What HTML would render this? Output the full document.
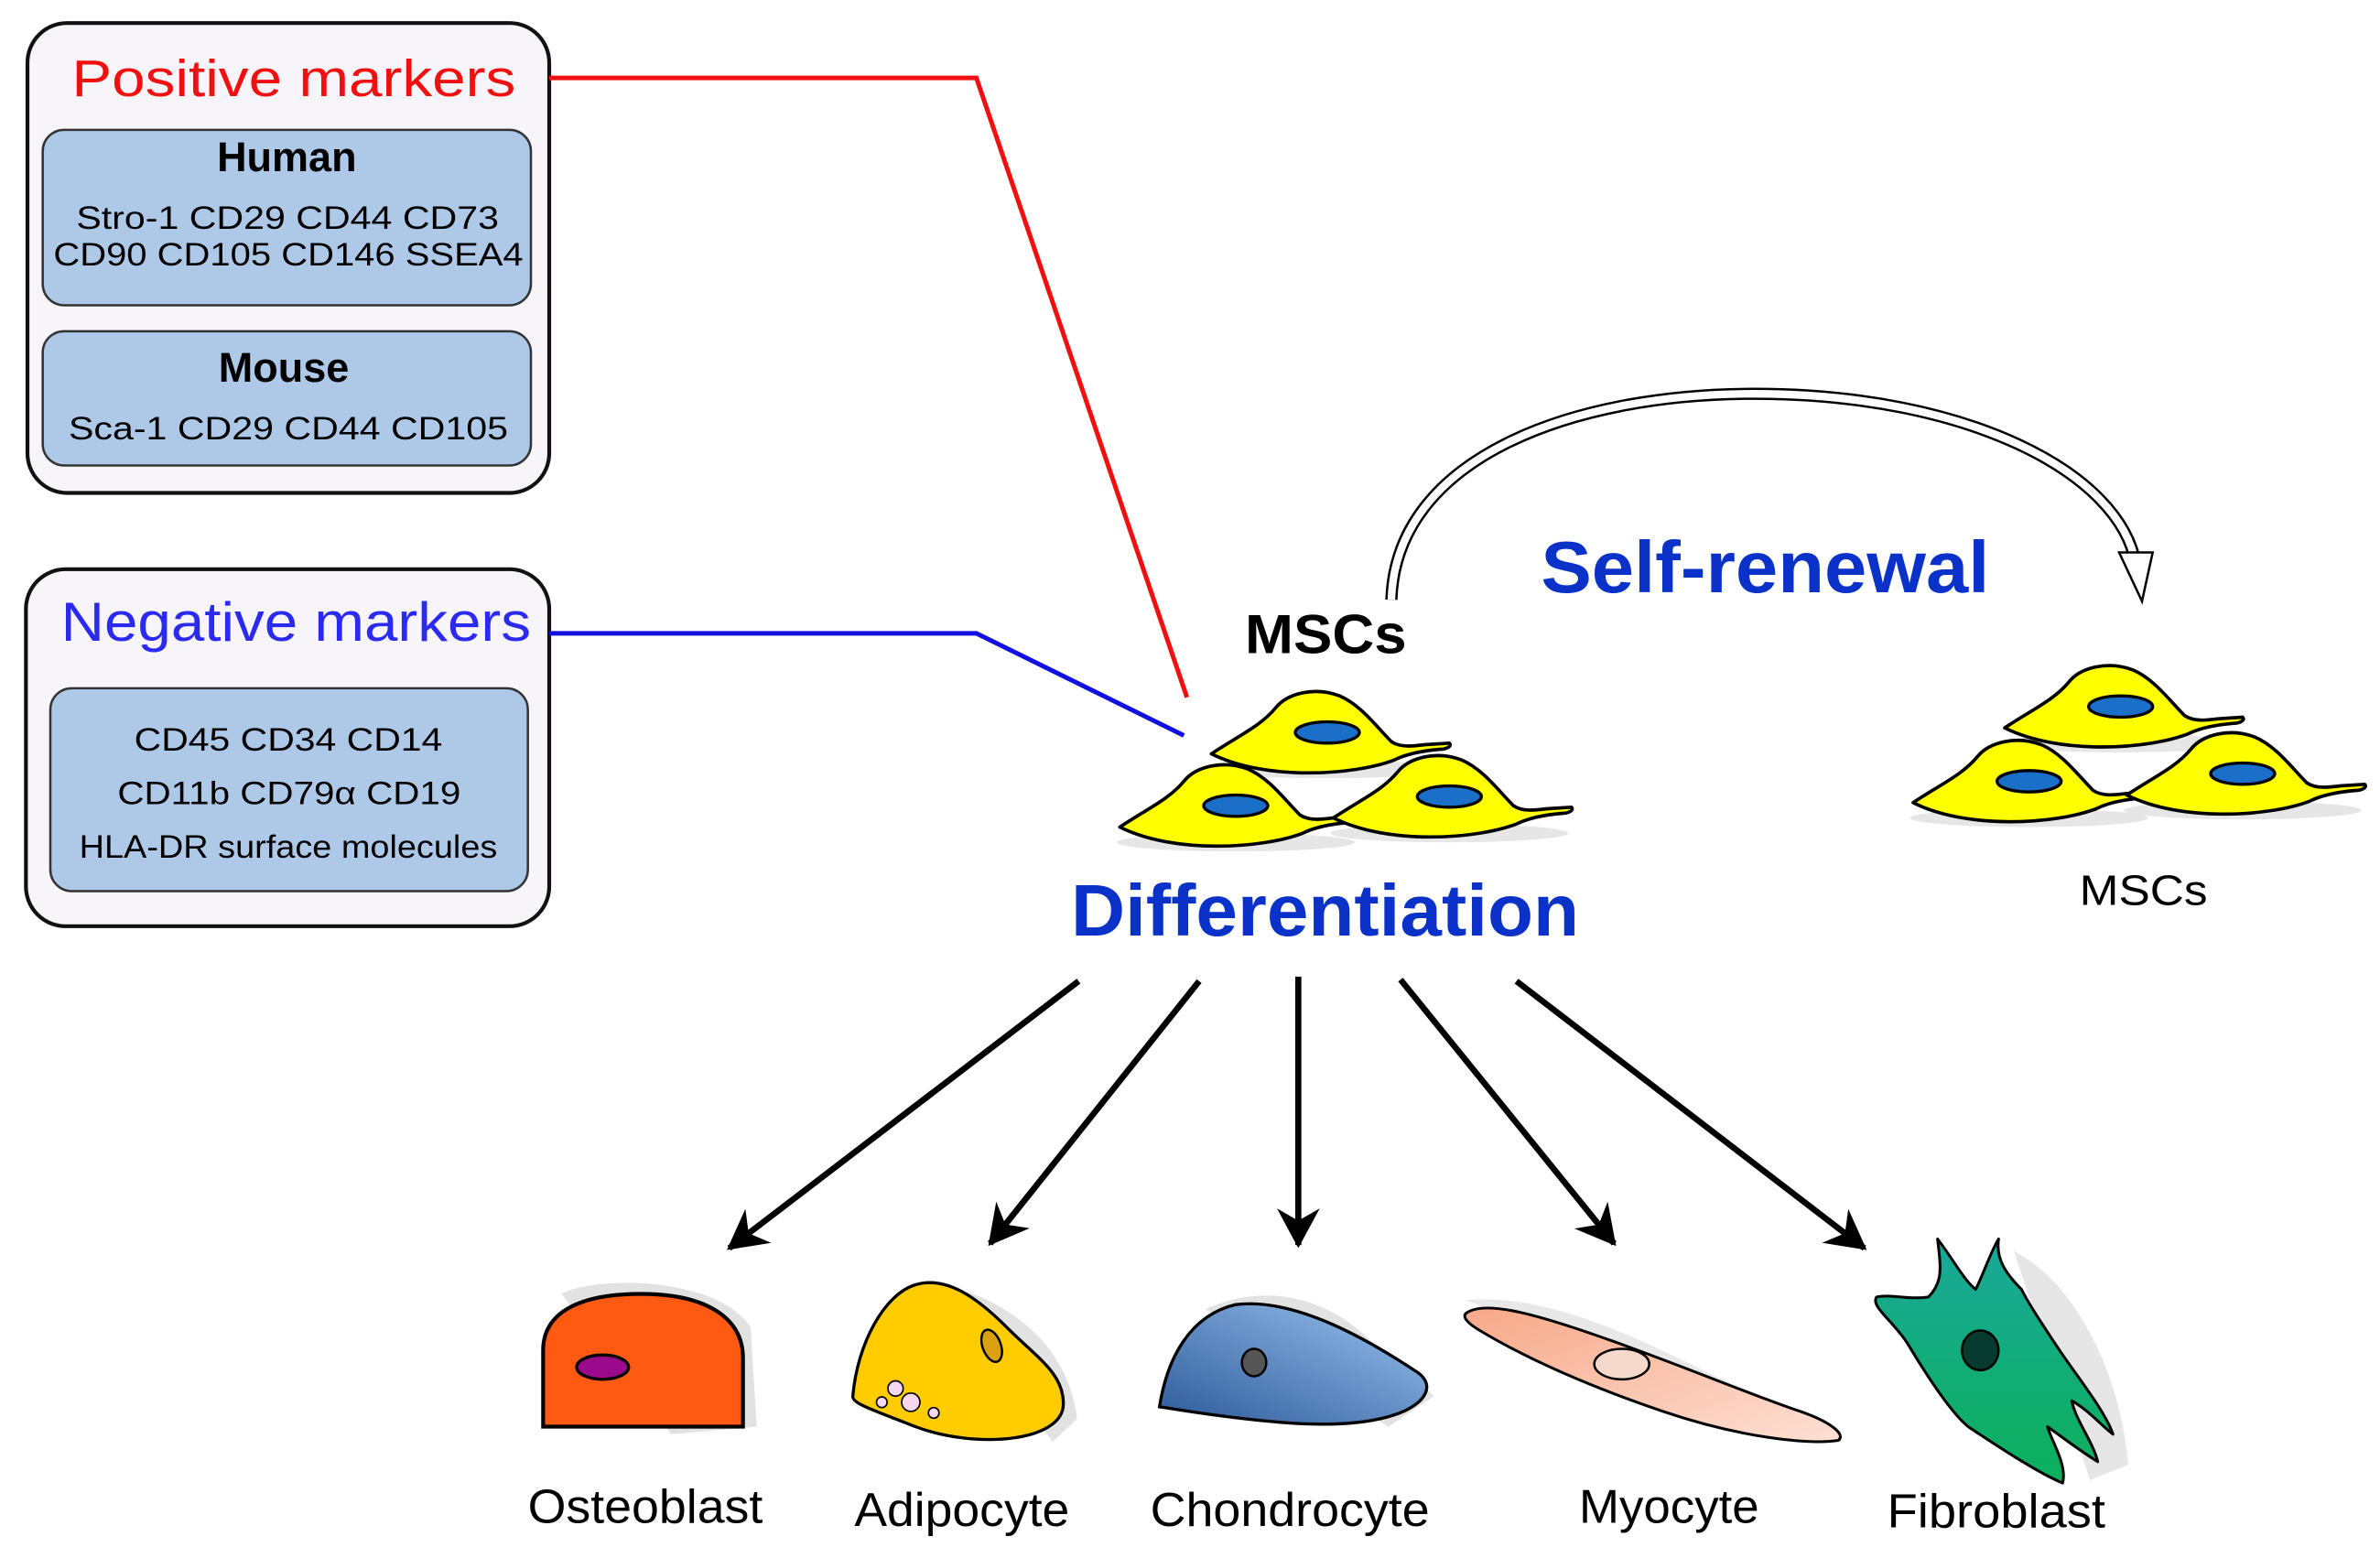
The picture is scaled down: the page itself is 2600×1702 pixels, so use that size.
<!DOCTYPE html>
<html><head><meta charset="utf-8"><style>
html,body{margin:0;padding:0;background:#fff;}
svg{display:block;}
text{font-family:"Liberation Sans",Arial,sans-serif;}
</style></head><body>
<svg width="2600" height="1702" viewBox="0 0 1560 1021" xmlns="http://www.w3.org/2000/svg">
<defs>
<g id="cell">
<ellipse cx="0" cy="24" rx="78" ry="6" fill="#e6e6e6"/>
<path d="M -76,14 C -58,2 -44,-4 -34,-16 C -26,-26 -8,-30 8,-24 C 22,-18 32,-4 42,6 C 48,10 56,9 64,8 L 80,7 C 82,9 78,11 74,11 C 62,12 52,14 44,18 C 18,28 -40,32 -76,14 Z" fill="#ffff00" stroke="#000" stroke-width="2.2" stroke-linejoin="round"/>
<ellipse cx="0" cy="0" rx="21" ry="7" fill="#1a6fc8" stroke="#000" stroke-width="2"/>
</g>
<marker id="ah" markerWidth="7" markerHeight="7" refX="6" refY="3.5" orient="auto" markerUnits="strokeWidth">
<path d="M0,0 L6.5,3.5 L0,7 L2,3.5 Z" fill="#000"/>
</marker>
<linearGradient id="chg" x1="0" y1="1" x2="1" y2="0"><stop offset="0" stop-color="#2c5a9a"/><stop offset="1" stop-color="#9cc3f0"/></linearGradient>
<linearGradient id="myg" x1="0" y1="0" x2="1" y2="1"><stop offset="0" stop-color="#f7a888"/><stop offset="1" stop-color="#fde0d4"/></linearGradient>
<linearGradient id="fbg" x1="0" y1="0" x2="0" y2="1"><stop offset="0" stop-color="#1aa89a"/><stop offset="1" stop-color="#0bb05a"/></linearGradient>
</defs>

<rect x="18" y="15" width="342" height="308" rx="26" fill="#f7f5fa" stroke="#111" stroke-width="2.5"/>
<text x="47" y="63" font-size="34" fill="#f01010" textLength="291" lengthAdjust="spacingAndGlyphs">Positive markers</text>
<rect x="28" y="85" width="320" height="115" rx="14" fill="#aec8e8" stroke="#333" stroke-width="1.5"/>
<text x="188" y="112" font-size="27" font-weight="bold" text-anchor="middle">Human</text>
<text x="50" y="150" font-size="21" textLength="277" lengthAdjust="spacingAndGlyphs">Stro-1   CD29   CD44   CD73</text>
<text x="35" y="174" font-size="21" textLength="308" lengthAdjust="spacingAndGlyphs">CD90   CD105   CD146  SSEA4</text>
<rect x="28" y="217" width="320" height="88" rx="14" fill="#aec8e8" stroke="#333" stroke-width="1.5"/>
<text x="186" y="250" font-size="27" font-weight="bold" text-anchor="middle">Mouse</text>
<text x="45" y="288" font-size="21" textLength="288" lengthAdjust="spacingAndGlyphs">Sca-1   CD29   CD44   CD105</text>

<rect x="17" y="373" width="343" height="234" rx="26" fill="#f7f5fa" stroke="#111" stroke-width="2.5"/>
<text x="40" y="420" font-size="36" fill="#2a2af0" textLength="308" lengthAdjust="spacingAndGlyphs">Negative markers</text>
<rect x="33" y="451" width="313" height="133" rx="14" fill="#aec8e8" stroke="#333" stroke-width="1.5"/>
<text x="88" y="492" font-size="21" textLength="202" lengthAdjust="spacingAndGlyphs">CD45   CD34   CD14</text>
<text x="77" y="527" font-size="21" textLength="225" lengthAdjust="spacingAndGlyphs">CD11b   CD79α   CD19</text>
<text x="52" y="562" font-size="21" textLength="274" lengthAdjust="spacingAndGlyphs">HLA-DR  surface  molecules</text>

<polyline points="360,51 640,51 778,457" fill="none" stroke="#f01010" stroke-width="3"/>
<polyline points="360,415 640,415 776,482" fill="none" stroke="#1010e0" stroke-width="3"/>

<path d="M 912,393 C 915,300 1030,258 1150,258 C 1290,258 1390,310 1400,370" fill="none" stroke="#000" stroke-width="8"/>
<path d="M 912,393 C 915,300 1030,258 1150,258 C 1290,258 1390,310 1400,370" fill="none" stroke="#fff" stroke-width="5"/>
<path d="M 1389,362 L 1411,362 L 1404,394 Z" fill="#fff" stroke="#000" stroke-width="1.5"/>

<text x="816" y="428" font-size="36" font-weight="bold" textLength="106" lengthAdjust="spacingAndGlyphs">MSCs</text>
<text x="1010" y="388" font-size="48" font-weight="bold" fill="#0a32c8" textLength="294" lengthAdjust="spacingAndGlyphs">Self-renewal</text>

<use href="#cell" transform="translate(870,480)"/>
<use href="#cell" transform="translate(810,528)"/>
<use href="#cell" transform="translate(950,522)"/>
<use href="#cell" transform="translate(1390,463)"/>
<use href="#cell" transform="translate(1330,512)"/>
<use href="#cell" transform="translate(1470,507)"/>

<text x="702" y="613" font-size="48" font-weight="bold" fill="#0a32c8" textLength="333" lengthAdjust="spacingAndGlyphs">Differentiation</text>
<text x="1363" y="593" font-size="28" textLength="84" lengthAdjust="spacingAndGlyphs">MSCs</text>

<g stroke="#000" stroke-width="4" marker-end="url(#ah)">
<line x1="707" y1="643" x2="478" y2="818"/>
<line x1="786" y1="643" x2="649" y2="815"/>
<line x1="851" y1="640" x2="851" y2="816"/>
<line x1="918" y1="642" x2="1058" y2="815"/>
<line x1="994" y1="643" x2="1222" y2="818"/>
</g>

<path d="M 368,848 C 390,836 470,836 492,870 L 496,935 L 440,940 Z" fill="#e2e2e2"/>
<path d="M 356,935 L 356,885 C 356,860 380,848 420,848 C 465,848 487,865 487,890 L 487,935 Z" fill="#ff5a12" stroke="#000" stroke-width="2.5"/>
<ellipse cx="395" cy="896" rx="17" ry="8" fill="#9a0a8a" stroke="#000" stroke-width="2"/>

<path d="M 610,840 C 660,850 700,880 706,930 L 690,945 Z" fill="#e2e2e2"/>
<path d="M 600,842 C 620,836 640,850 660,870 C 680,890 697,900 697,920 C 697,945 640,950 600,935 C 575,925 558,920 559,915 C 562,880 580,848 600,842 Z" fill="#ffcc00" stroke="#000" stroke-width="2"/>
<ellipse cx="650" cy="882" rx="6" ry="11" transform="rotate(-20 650 882)" fill="#d9a010" stroke="#000" stroke-width="1.5"/>
<circle cx="587" cy="910" r="5" fill="#f6d8f0" stroke="#000" stroke-width="1"/>
<circle cx="597" cy="919" r="6" fill="#f6d8f0" stroke="#000" stroke-width="1"/>
<circle cx="578" cy="919" r="3.5" fill="#f6d8f0" stroke="#000" stroke-width="1"/>
<circle cx="612" cy="926" r="3.5" fill="#f6d8f0" stroke="#000" stroke-width="1"/>

<path d="M 790,858 C 830,840 870,850 900,880 L 940,915 L 910,935 Z" fill="#e2e2e2"/>
<path d="M 760,922 C 765,890 780,862 810,855 C 850,850 900,880 930,900 C 940,908 935,918 920,925 C 890,938 840,935 760,922 Z" fill="url(#chg)" stroke="#000" stroke-width="2"/>
<ellipse cx="822" cy="893" rx="8" ry="9" fill="#555" stroke="#000" stroke-width="1.5"/>

<path d="M 960,852 C 1010,848 1060,870 1120,900 L 1210,940 Z" fill="#e8e8e8"/>
<path d="M 962,860 C 975,852 1010,862 1060,880 C 1110,898 1150,915 1180,925 C 1200,932 1210,940 1205,944 C 1185,947 1140,942 1090,925 C 1040,908 1000,890 970,872 C 960,866 958,862 962,860 Z" fill="url(#myg)" stroke="#000" stroke-width="1.8"/>
<ellipse cx="1063" cy="894" rx="18" ry="10" fill="#f5d8cc" stroke="#000" stroke-width="1.5"/>

<path d="M 1320,820 C 1360,840 1390,900 1395,960 L 1370,970 Z" fill="#e6e6e6"/>
<path d="M 1270,812 C 1272,830 1274,840 1264,850 C 1250,852 1240,848 1230,850 C 1226,856 1240,865 1250,880 C 1262,900 1278,925 1290,935 C 1305,945 1335,965 1352,972 C 1355,960 1345,945 1342,935 C 1352,942 1362,950 1375,958 C 1372,945 1360,930 1358,918 C 1370,925 1378,935 1385,940 C 1380,925 1360,900 1350,885 C 1340,870 1330,855 1325,845 C 1315,835 1308,825 1310,812 C 1305,820 1300,835 1295,845 C 1288,840 1280,825 1270,812 Z" fill="url(#fbg)" stroke="#000" stroke-width="1.8" stroke-linejoin="round"/>
<ellipse cx="1298" cy="885" rx="12" ry="13" fill="#063a2e" stroke="#000" stroke-width="1.5"/>

<g font-size="31">
<text x="346" y="998" textLength="154" lengthAdjust="spacingAndGlyphs">Osteoblast</text>
<text x="560" y="1000" textLength="141" lengthAdjust="spacingAndGlyphs">Adipocyte</text>
<text x="754" y="1000" textLength="183" lengthAdjust="spacingAndGlyphs">Chondrocyte</text>
<text x="1035" y="998" textLength="118" lengthAdjust="spacingAndGlyphs">Myocyte</text>
<text x="1237" y="1001" textLength="143" lengthAdjust="spacingAndGlyphs">Fibroblast</text>
</g>
</svg>
</body></html>
